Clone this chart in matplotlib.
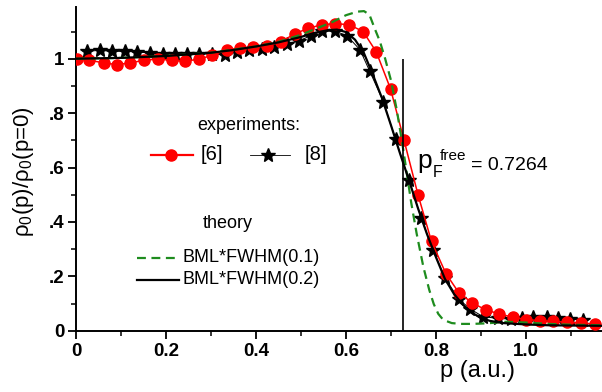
import matplotlib
matplotlib.use('Agg')
import matplotlib.pyplot as plt
from matplotlib.lines import Line2D
from matplotlib.ticker import MultipleLocator, FixedLocator, FixedFormatter

plt.rcParams['font.family'] = ['Liberation Sans', 'DejaVu Sans']
plt.rcParams['mathtext.default'] = 'regular'

# experiment [6] (red circles)
p6 = [0.002, 0.029, 0.062, 0.091, 0.121, 0.151, 0.182, 0.213, 0.242, 0.273,
      0.303, 0.335, 0.364, 0.393, 0.424, 0.456, 0.487, 0.516, 0.547, 0.576,
      0.607, 0.638, 0.667, 0.699, 0.729, 0.760, 0.790, 0.822, 0.851, 0.881,
      0.910, 0.940, 0.972, 1.000, 1.031, 1.061, 1.092, 1.122, 1.153]
rho6 = [1.000, 0.994, 0.985, 0.978, 0.985, 0.994, 0.999, 0.994, 0.990, 0.999,
        1.012, 1.033, 1.039, 1.043, 1.046, 1.063, 1.092, 1.112, 1.125, 1.129,
        1.125, 1.100, 1.026, 0.889, 0.700, 0.500, 0.328, 0.210, 0.139, 0.102,
        0.077, 0.062, 0.049, 0.041, 0.037, 0.034, 0.031, 0.028, 0.025]

# experiment [8] (black stars)
p8 = [0.025, 0.053, 0.079, 0.109, 0.135, 0.164, 0.194, 0.220, 0.247, 0.274,
      0.303, 0.330, 0.357, 0.385, 0.413, 0.440, 0.468, 0.496, 0.522, 0.546,
      0.576, 0.602, 0.631, 0.653, 0.683, 0.710, 0.740, 0.767, 0.793, 0.820,
      0.850, 0.876, 0.904, 0.937, 0.967, 0.992, 1.016, 1.046, 1.072, 1.098,
      1.127]
rho8 = [1.027, 1.031, 1.027, 1.027, 1.025, 1.021, 1.018, 1.017, 1.017, 1.018,
        1.017, 1.015, 1.025, 1.033, 1.036, 1.043, 1.055, 1.066, 1.085, 1.101,
        1.101, 1.085, 1.033, 0.953, 0.842, 0.704, 0.553, 0.415, 0.297, 0.195,
        0.117, 0.080, 0.052, 0.045, 0.043, 0.045, 0.052, 0.049, 0.047, 0.043,
        0.039]

# theory BML*FWHM(0.2)
pt2 = [0.0, 0.1, 0.2, 0.3, 0.35, 0.4, 0.45, 0.5, 0.53, 0.56, 0.58, 0.6, 0.62,
       0.64, 0.66, 0.68, 0.70, 0.72, 0.74, 0.76, 0.78, 0.80, 0.82, 0.84, 0.86,
       0.88, 0.90, 0.92, 0.95, 1.0, 1.05, 1.1, 1.169]
rt2 = [1.0, 1.003, 1.01, 1.022, 1.032, 1.045, 1.06, 1.08, 1.095, 1.105, 1.107,
       1.098, 1.07, 1.02, 0.94, 0.855, 0.755, 0.652, 0.553, 0.45, 0.355, 0.27,
       0.19, 0.135, 0.095, 0.066, 0.047, 0.036, 0.028, 0.023, 0.02, 0.019, 0.018]

# theory BML*FWHM(0.1)
pt1 = [0.0, 0.1, 0.2, 0.3, 0.4, 0.45, 0.5, 0.54, 0.57, 0.6, 0.625, 0.64, 0.652,
       0.664, 0.675, 0.687, 0.70, 0.713, 0.725, 0.735, 0.745, 0.757, 0.772,
       0.785, 0.795, 0.805, 0.816, 0.835, 0.855, 0.88, 0.913, 0.957, 1.0, 1.05,
       1.1, 1.169]
rt1 = [1.0, 1.003, 1.01, 1.022, 1.045, 1.062, 1.088, 1.115, 1.135, 1.16, 1.173,
       1.175, 1.162, 1.11, 1.065, 1.0, 0.92, 0.81, 0.69, 0.58, 0.47, 0.357,
       0.234, 0.15, 0.098, 0.062, 0.04, 0.028, 0.025, 0.025, 0.027, 0.033, 0.03,
       0.025, 0.022, 0.02]

pF = 0.7264

W, H = 602, 392
def px(x, y):
    return x / W, 1 - y / H

fig = plt.figure(figsize=(6.02, 3.92), dpi=100)
ax = fig.add_axes([76 / W, 61.3 / H, 526 / W, 323.4 / H])

ax.plot(p8, rho8, '-', color='black', lw=0.7, marker='*', ms=10, zorder=2)
ax.plot(p6, rho6, '-', color='red', lw=1.1, marker='o', ms=8,
        mec='red', zorder=3)
ax.plot(pt1, rt1, '--', color='#1e8c1e', lw=1.6, dashes=(4, 2.5), zorder=4)
ax.plot(pt2, rt2, '-', color='black', lw=1.6, zorder=5)
ax.vlines(pF, 0, 1.0, color='black', lw=1.2, zorder=6)

ax.set_xlim(0, 526 / 450)
ax.set_ylim(0, 1.189)
for s in ['top', 'right']:
    ax.spines[s].set_visible(False)
for s in ['left', 'bottom']:
    ax.spines[s].set_linewidth(1.4)

ax.xaxis.set_major_locator(FixedLocator([0, 0.2, 0.4, 0.6, 0.8, 1.0]))
ax.xaxis.set_major_formatter(FixedFormatter(['0', '0.2', '0.4', '0.6', '0.8', '1.0']))
ax.xaxis.set_minor_locator(MultipleLocator(0.1))
ax.yaxis.set_major_locator(FixedLocator([0, 0.2, 0.4, 0.6, 0.8, 1.0]))
ax.yaxis.set_major_formatter(FixedFormatter(['0', '.2', '.4', '.6', '.8', '1']))
ax.yaxis.set_minor_locator(MultipleLocator(0.1))
ax.tick_params(which='major', direction='out', length=5.5, width=1.3, pad=3)
ax.tick_params(which='minor', direction='out', length=3.5, width=1.1)
for lab in ax.get_xticklabels() + ax.get_yticklabels():
    lab.set_fontweight('bold')
    lab.set_fontsize(13.5)

# axis titles
fig.text(*px(23, 172), 'ρ$_0$(p)/ρ$_0$(p=0)', rotation=90, fontsize=16,
         ha='center', va='center')
fig.text(*px(478, 371), 'p (a.u.)', fontsize=17, ha='center', va='center')

# p_F^free annotation
fig.text(*px(417, 168), 'p', fontsize=19, ha='left', va='baseline')
fig.text(*px(433, 177), 'F', fontsize=11.5, ha='left', va='baseline')
fig.text(*px(440, 160), 'free', fontsize=11, ha='left', va='baseline')
fig.text(*px(471, 170), '= 0.7264', fontsize=14, ha='left', va='baseline')

# hand-made legend
fig.text(*px(197, 125), 'experiments:', fontsize=13, ha='left', va='center')
x0, y0 = px(150.7, 154.5); x1, _ = px(193.3, 154.5); xm, _ = px(171, 154.5)
fig.add_artist(Line2D([x0, x1], [y0, y0], color='red', lw=1.6))
fig.add_artist(Line2D([xm], [y0], color='red', marker='o', ms=8))
fig.text(*px(201, 154.5), '[6]', fontsize=14.5, ha='left', va='center')
x0, y0 = px(250, 155); x1, _ = px(290, 155); xm, _ = px(268, 155)
fig.add_artist(Line2D([x0, x1], [y0, y0], color='black', lw=0.6))
fig.add_artist(Line2D([xm], [y0], color='black', marker='*', ms=10))
fig.text(*px(305, 155), '[8]', fontsize=14.5, ha='left', va='center')

fig.text(*px(203, 223), 'theory', fontsize=13, ha='left', va='center')
x0, y0 = px(137, 258); x1, _ = px(179, 258)
fig.add_artist(Line2D([x0, x1], [y0, y0], color='#1e8c1e', lw=1.6,
                      dashes=(4, 2.5)))
fig.text(*px(183, 258), 'BML*FWHM(0.1)', fontsize=13, ha='left', va='center')
x0, y0 = px(137, 280); x1, _ = px(179, 280)
fig.add_artist(Line2D([x0, x1], [y0, y0], color='black', lw=1.6))
fig.text(*px(183, 280), 'BML*FWHM(0.2)', fontsize=13, ha='left', va='center')

fig.savefig('out.png', dpi=100)
